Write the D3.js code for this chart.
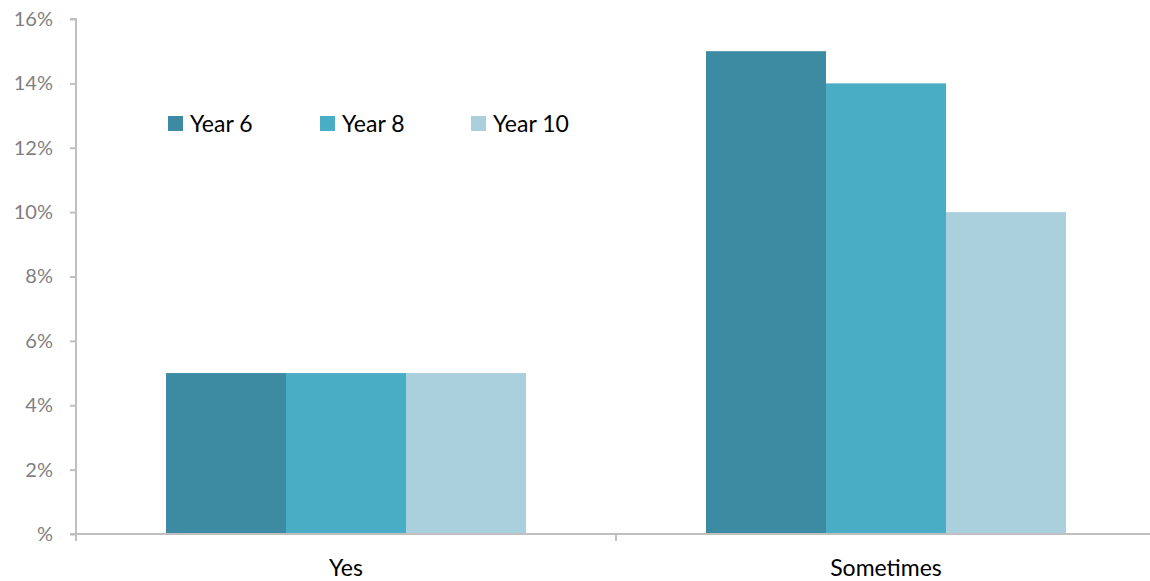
<!DOCTYPE html>
<html>
<head>
<meta charset="utf-8">
<script src="https://cdn.jsdelivr.net/npm/d3@7"></script>
<style>
  html, body { margin: 0; padding: 0; background: #fff; }
  svg { display: block; font-family: Lato, "Open Sans", sans-serif; }
</style>
</head>
<body>
<svg id="chart" width="1150" height="581"></svg>
<script>
// Responses by category and year group (percent)
const categories = ["Yes", "Sometimes"];
const seriesNames = ["Year 6", "Year 8", "Year 10"];
const year6 = [5, 15];
const year8 = [5, 14];
const year10 = [5, 10];
const yTicks = [0, 2, 4, 6, 8, 10, 12, 14, 16];
const colors = ["#3c8ba3", "#4aadc6", "#aacfdd"];

const seriesValues = [year6, year8, year10];

const svg = d3.select("#chart");
const margin = { left: 76, right: -6, top: 19, bottom: 47 };
const W = 1150, H = 581;
const x0 = margin.left, x1 = W - margin.right;
const yTop = margin.top, yBot = H - margin.bottom;

const x = d3.scaleBand().domain(categories).range([x0, x1]).paddingInner(0).paddingOuter(0);
const xs = d3.scaleBand().domain(seriesNames).range([0, x.bandwidth()]).paddingInner(0).paddingOuter(0.75);
const y = d3.scaleLinear().domain([0, 16]).range([yBot, yTop]);

const axisColor = "#bfbfbf";

// Bars
categories.forEach((cat, ci) => {
  seriesNames.forEach((s, si) => {
    const v = seriesValues[si][ci];
    svg.append("rect")
      .attr("x", x(cat) + xs(s))
      .attr("y", y(v))
      .attr("width", xs.bandwidth())
      .attr("height", y(0) - y(v))
      .attr("fill", colors[si]);
  });
});

// Y axis
const yAxis = d3.axisLeft(y)
  .tickValues(yTicks)
  .tickSize(6)
  .tickPadding(17)
  .tickFormat(d => d === 0 ? "%" : d + "%");
const gy = svg.append("g").attr("transform", `translate(${x0},0)`).call(yAxis);
gy.select(".domain").attr("stroke", axisColor).attr("stroke-width", 2)
  .attr("d", `M-6,${yTop}H0V${yBot}`);
gy.selectAll(".tick line").attr("stroke", axisColor).attr("stroke-width", 2);
gy.selectAll(".tick text").attr("fill", "#7f7f7f").attr("font-size", 20)
  .attr("font-family", "Lato, sans-serif");

// X axis line and category boundary ticks
svg.append("line").attr("x1", x0 - 6).attr("x2", x1).attr("y1", yBot).attr("y2", yBot)
  .attr("stroke", axisColor).attr("stroke-width", 2);
const bounds = categories.map(c => x(c)).concat([x1]);
svg.selectAll(".xtick").data(bounds).enter().append("line")
  .attr("x1", d => d).attr("x2", d => d)
  .attr("y1", yBot).attr("y2", yBot + 7)
  .attr("stroke", axisColor).attr("stroke-width", 2);

// Category labels
svg.selectAll(".xlabel").data(categories).enter().append("text")
  .attr("x", d => x(d) + x.bandwidth() / 2)
  .attr("y", yBot + 42)
  .attr("text-anchor", "middle")
  .attr("font-size", 23)
  .attr("fill", "#000")
  .text(d => d);

// Legend
const legendX = [168, 320, 471];
const legend = svg.selectAll(".legend").data(seriesNames).enter().append("g")
  .attr("transform", (d, i) => `translate(${legendX[i]},116)`);
legend.append("rect").attr("width", 15).attr("height", 15).attr("fill", (d, i) => colors[i]);
legend.append("text").attr("x", 22).attr("y", 16).attr("font-size", 23)
  .attr("fill", "#000").text(d => d);
</script>
</body>
</html>
